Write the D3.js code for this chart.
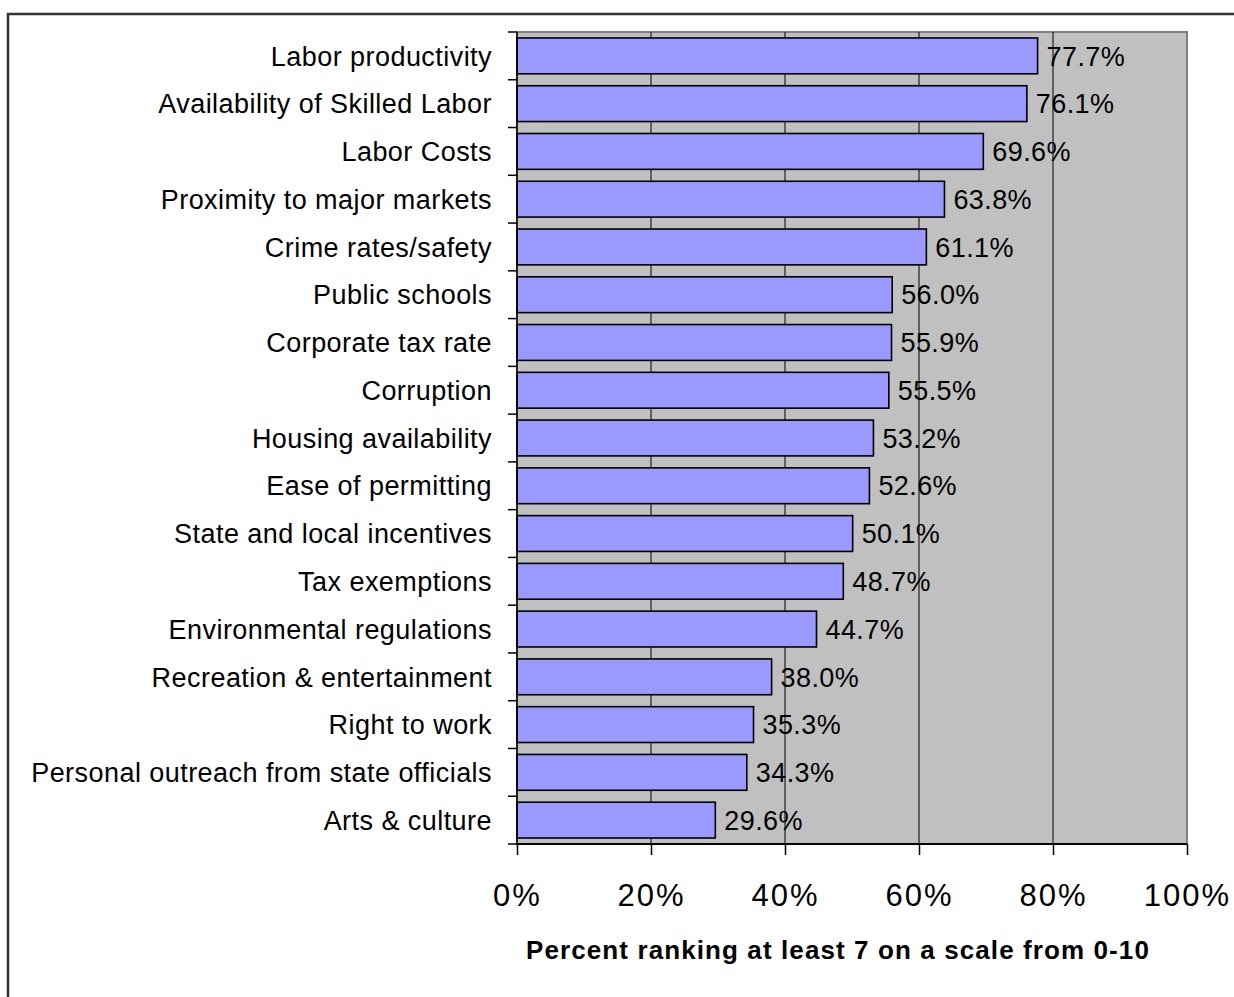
<!DOCTYPE html>
<html>
<head>
<meta charset="utf-8">
<script src="https://cdn.jsdelivr.net/npm/d3@7"></script>
<style>
  body { margin: 0; background: #fff; }
  text { font-family: "Liberation Sans", Arial, sans-serif; fill: #000; }
</style>
</head>
<body>
<svg width="1234" height="997"></svg>
<script>
var categories = [
  "Labor productivity",
  "Availability of Skilled Labor",
  "Labor Costs",
  "Proximity to major markets",
  "Crime rates/safety",
  "Public schools",
  "Corporate tax rate",
  "Corruption",
  "Housing availability",
  "Ease of permitting",
  "State and local incentives",
  "Tax exemptions",
  "Environmental regulations",
  "Recreation & entertainment",
  "Right to work",
  "Personal outreach from state officials",
  "Arts & culture"
];
var values = [77.7, 76.1, 69.6, 63.8, 61.1, 56.0, 55.9, 55.5, 53.2, 52.6, 50.1, 48.7, 44.7, 38.0, 35.3, 34.3, 29.6];
var xTicks = [0, 20, 40, 60, 80, 100];
var axisTitle = "Percent ranking at least 7 on a scale from 0-10";

var svg = d3.select("svg");

var plotLeft = 517, plotRight = 1187, plotTop = 32, plotBottom = 844;

var x = d3.scaleLinear()
  .domain([0, 100])
  .range([plotLeft, plotRight]);

var y = d3.scaleBand()
  .domain(categories)
  .range([plotTop, plotBottom])
  .paddingInner(0.25)
  .paddingOuter(0.125);

// outer chart frame (cut off at the right and bottom)
svg.append("rect")
  .attr("x", 8).attr("y", 14)
  .attr("width", 1260).attr("height", 1020)
  .attr("fill", "none")
  .attr("stroke", "#333")
  .attr("stroke-width", 2.5);

// plot area
svg.append("rect")
  .attr("x", plotLeft).attr("y", plotTop)
  .attr("width", plotRight - plotLeft).attr("height", plotBottom - plotTop)
  .attr("fill", "#c0c0c0")
  .attr("stroke", "#808080")
  .attr("stroke-width", 2);

// gridlines
svg.append("g")
  .selectAll("line")
  .data(xTicks.slice(1, -1))
  .enter().append("line")
  .attr("x1", function(d) { return x(d); })
  .attr("x2", function(d) { return x(d); })
  .attr("y1", plotTop)
  .attr("y2", plotBottom)
  .attr("stroke", "#000")
  .attr("stroke-width", 1);

// bars
svg.append("g")
  .selectAll("rect")
  .data(values)
  .enter().append("rect")
  .attr("x", x(0))
  .attr("y", function(d, i) { return y(categories[i]); })
  .attr("width", function(d) { return x(d) - x(0); })
  .attr("height", y.bandwidth())
  .attr("fill", "#9999ff")
  .attr("stroke", "#000")
  .attr("stroke-width", 1.6);

// value labels
svg.append("g")
  .selectAll("text")
  .data(values)
  .enter().append("text")
  .attr("x", function(d) { return x(d) + 9; })
  .attr("y", function(d, i) { return y(categories[i]) + y.bandwidth() / 2; })
  .attr("dy", "0.36em")
  .attr("font-size", 27)
  .attr("letter-spacing", 0.4)
  .text(function(d) { return d.toFixed(1) + "%"; });

// y axis line and ticks at band boundaries
var yAxis = svg.append("g");
var bounds = categories.map(function(c) { return y(c) - y.step() * y.paddingInner() / 2; });
bounds.push(plotBottom);
yAxis.selectAll("line.tick")
  .data(bounds)
  .enter().append("line")
  .attr("x1", plotLeft - 9).attr("x2", plotLeft)
  .attr("y1", function(d) { return d; })
  .attr("y2", function(d) { return d; })
  .attr("stroke", "#000")
  .attr("stroke-width", 1.5);
yAxis.append("line")
  .attr("x1", plotLeft).attr("x2", plotLeft)
  .attr("y1", plotTop).attr("y2", plotBottom)
  .attr("stroke", "#000")
  .attr("stroke-width", 1.5);

// category labels
svg.append("g")
  .selectAll("text")
  .data(categories)
  .enter().append("text")
  .attr("x", plotLeft - 25)
  .attr("y", function(d) { return y(d) + y.bandwidth() / 2; })
  .attr("dy", "0.36em")
  .attr("text-anchor", "end")
  .attr("font-size", 27)
  .attr("letter-spacing", 0.45)
  .text(function(d) { return d; });

// x axis
var xAxis = svg.append("g")
  .attr("transform", "translate(0," + plotBottom + ")")
  .call(d3.axisBottom(x)
    .tickValues(xTicks)
    .tickSize(11)
    .tickPadding(29)
    .tickFormat(function(d) { return d + "%"; }));
xAxis.select(".domain").remove();
xAxis.selectAll(".tick line").attr("stroke", "#000").attr("stroke-width", 1.5);
xAxis.selectAll(".tick text")
  .attr("font-family", "Liberation Sans, Arial, sans-serif")
  .attr("font-size", 31)
  .attr("letter-spacing", 2)
  .attr("fill", "#000");
svg.append("line")
  .attr("x1", plotLeft).attr("x2", plotRight)
  .attr("y1", plotBottom).attr("y2", plotBottom)
  .attr("stroke", "#000")
  .attr("stroke-width", 2);

// axis title
svg.append("text")
  .attr("x", 838)
  .attr("y", 959)
  .attr("text-anchor", "middle")
  .attr("font-size", 26)
  .attr("font-weight", "bold")
  .attr("letter-spacing", 1.1)
  .text(axisTitle);
</script>
</body>
</html>
